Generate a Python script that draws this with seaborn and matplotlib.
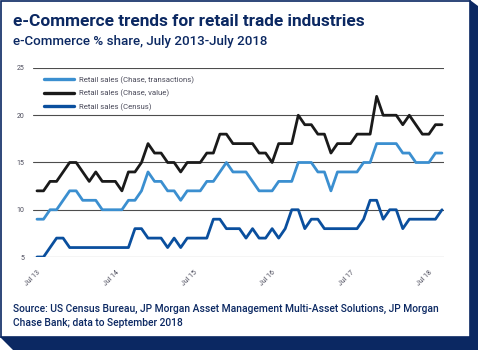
import pandas as pd
import matplotlib.pyplot as plt
import seaborn as sns
from matplotlib.patches import Polygon, Rectangle

# monthly data, Jul 2013 - Sep 2018 (63 months)
months = pd.date_range('2013-07-01', '2018-09-01', freq='MS')
chase_transactions = [9, 9, 10, 10, 11, 12, 12, 11, 11, 11, 10, 10, 10, 10, 11, 11,
                      12, 14, 13, 13, 12, 12, 11, 12, 12, 12, 13, 13, 14, 15, 14, 14,
                      14, 13, 12, 12, 12, 13, 13, 13, 15, 15, 15, 14, 14, 12, 14, 14,
                      14, 14, 15, 15, 17, 17, 17, 17, 16, 16, 15, 15, 15, 16, 16]
chase_value = [12, 12, 13, 13, 14, 15, 15, 14, 13, 14, 13, 13, 13, 12, 14, 14,
               15, 17, 16, 16, 15, 15, 14, 15, 15, 15, 16, 16, 18, 18, 17, 17,
               17, 17, 16, 16, 15, 17, 17, 17, 20, 19, 19, 18, 18, 16, 17, 17,
               17, 18, 18, 18, 22, 20, 20, 20, 19, 20, 19, 18, 18, 19, 19]
census = [5, 5, 6, 7, 7, 6, 6, 6, 6, 6, 6, 6, 6, 6, 6, 8,
          8, 7, 7, 7, 6, 7, 6, 7, 7, 7, 7, 9, 9, 8, 8, 8,
          7, 8, 7, 7, 8, 7, 8, 10, 10, 8, 9, 9, 8, 8, 8, 8,
          8, 8, 9, 11, 11, 9, 10, 10, 8, 9, 9, 9, 9, 9, 10]
series_names = ['Retail sales (Chase, transactions)', 'Retail sales (Chase, value)',
                'Retail sales (Census)']
tick_labels = ['Jul 13', 'Jul 14', 'Jul 15', 'Jul 16', 'Jul 17', 'Jul 18']

df = pd.concat([
    pd.DataFrame({'month': range(len(months)), 'value': vals, 'series': name})
    for name, vals in zip(series_names, [chase_transactions, chase_value, census])
])

navy = '#0b2862'
palette = {series_names[0]: '#3b8fd0', series_names[1]: '#1a1a1a',
           series_names[2]: '#0a4f9e'}

sns.set_style('white')
plt.rcParams['font.family'] = ['Roboto', 'DejaVu Sans']

W, H = 480, 355
fig = plt.figure(figsize=(W / 100, H / 100), dpi=100)


def fx(x):
    return x / W


def fy(y):
    return 1 - y / H


# drop-shadow frame
shadow = Polygon([(fx(470), fy(0)), (fx(478), fy(6)), (fx(478), fy(350)),
                  (fx(13), fy(350)), (fx(0), fy(337))],
                 closed=True, transform=fig.transFigure, facecolor=navy,
                 edgecolor='none', zorder=-2)
fig.patches.append(shadow)
box = Rectangle((fx(0.7), fy(337)), fx(469.5), 337 / H - 0.7 / H,
                transform=fig.transFigure, facecolor='white', edgecolor=navy,
                linewidth=1.2, zorder=-1)
fig.patches.append(box)

ax = fig.add_axes([fx(33), fy(257), fx(444 - 33), (257 - 68) / H])
ax.set_zorder(2)
sns.lineplot(data=df, x='month', y='value', hue='series', palette=palette,
             hue_order=series_names, linewidth=2, ax=ax)

ax.set_xlim(-0.61, 62.31)
ax.set_ylim(5, 25)
ax.set_yticks([5, 10, 15, 20, 25])
ax.set_yticklabels(['5', '10', '15', '20', '25'])
ax.set_xticks([0, 12, 24, 36, 48, 60])
ax.set_xticklabels(tick_labels, rotation=45, ha='right', va='top',
                   rotation_mode='anchor')
ax.tick_params(axis='both', length=0, labelsize=5, colors='#4a4a5a')
ax.tick_params(axis='x', pad=9)
ax.tick_params(axis='y', pad=6)
ax.yaxis.grid(True, color='#4d4d4d', linewidth=0.8)
ax.set_axisbelow(True)
for s in ax.spines.values():
    s.set_visible(False)
ax.set_xlabel('')
ax.set_ylabel('')
ax.patch.set_alpha(0)

leg = ax.legend(loc='upper left', bbox_to_anchor=(0.01, 0.995), frameon=False,
                fontsize=5.6, handlelength=3.9, labelspacing=0.75,
                handletextpad=0.6)
for t in leg.get_texts():
    t.set_color('#4a4a5a')
for line in leg.get_lines():
    line.set_linewidth(2.4)

fig.text(fx(13), fy(22), 'e-Commerce trends for retail trade industries',
         fontsize=12.4, fontweight='bold', color=navy, va='center', ha='left')
fig.text(fx(13), fy(41), 'e-Commerce % share, July 2013-July 2018',
         fontsize=9.6, fontweight='medium', color=navy, va='center', ha='left')
fig.text(fx(13), fy(309),
         'Source: US Census Bureau, JP Morgan Asset Management Multi-Asset Solutions, JP Morgan',
         fontsize=7.4, fontweight='medium', color=navy, va='center', ha='left')
fig.text(fx(13), fy(323), 'Chase Bank; data to September 2018',
         fontsize=7.4, fontweight='medium', color=navy, va='center', ha='left')

fig.savefig('out.png', dpi=100, facecolor='white')
